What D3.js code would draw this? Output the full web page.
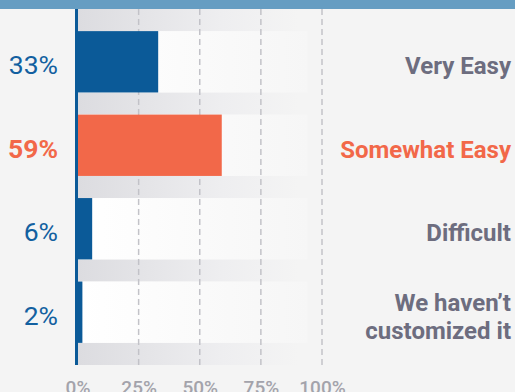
<!DOCTYPE html>
<html>
<head>
<meta charset="utf-8">
<script src="https://cdn.jsdelivr.net/npm/d3@7"></script>
<style>
  body { margin: 0; background: #f4f4f4; }
  svg { display: block; font-family: Roboto, "Noto Sans", sans-serif; }
</style>
</head>
<body>
<div id="chart"></div>
<script>
// data
const categories = ["Very Easy", "Somewhat Easy", "Difficult", "We haven\u2019t customized it"];
const labelLines = [["Very Easy"], ["Somewhat Easy"], ["Difficult"], ["We haven\u2019t", "customized it"]];
const values = [33, 59, 6, 2];
const highlight = "Somewhat Easy";
const tickValues = [0, 25, 50, 75, 100];

const width = 515, height = 392;
const yTop = 9, yBottom = 365;
const blue = "#0b5a98", orange = "#f26849", grey = "#6d6d7f";

const svg = d3.select("#chart").append("svg")
  .attr("width", width)
  .attr("height", height);

// gradients for the row stripes
const defs = svg.append("defs");
const gWhite = defs.append("linearGradient").attr("id", "whiteFade");
gWhite.append("stop").attr("offset", "0%").attr("stop-color", "#ffffff");
gWhite.append("stop").attr("offset", "100%").attr("stop-color", "#f6f6f6");
const gGrey = defs.append("linearGradient").attr("id", "greyFade");
gGrey.append("stop").attr("offset", "0%").attr("stop-color", "#dcdce0");
gGrey.append("stop").attr("offset", "65%").attr("stop-color", "#eeeef0");
gGrey.append("stop").attr("offset", "100%").attr("stop-color", "#f4f4f4");

svg.append("rect").attr("width", width).attr("height", height).attr("fill", "#f4f4f4");

const x = d3.scaleLinear().domain([0, 100]).range([77.5, 322]);
const y = d3.scaleBand().domain(categories).range([yTop, yBottom]).padding(0.265);
const bw = y.bandwidth();

// grey stripes in the gaps between bars
const gaps = d3.range(categories.length + 1).map(i => ({
  y0: i === 0 ? yTop : y(categories[i - 1]) + bw,
  y1: i === categories.length ? yBottom : y(categories[i])
}));
svg.append("g").selectAll("rect")
  .data(gaps)
  .join("rect")
  .attr("x", x(0) + 0.5)
  .attr("y", d => d.y0)
  .attr("width", 220)
  .attr("height", d => d.y1 - d.y0)
  .attr("fill", "url(#greyFade)");

// white band behind each bar
svg.append("g").selectAll("rect")
  .data(categories)
  .join("rect")
  .attr("x", x(0))
  .attr("y", d => y(d))
  .attr("width", 230)
  .attr("height", bw)
  .attr("fill", "url(#whiteFade)");

// dashed gridlines
svg.append("g").selectAll("line")
  .data(tickValues.filter(d => d > 0))
  .join("line")
  .attr("x1", d => x(d)).attr("x2", d => x(d))
  .attr("y1", yTop).attr("y2", yBottom)
  .attr("stroke", "#c2c2c8")
  .attr("stroke-width", 1.5)
  .attr("stroke-dasharray", "6,4");

// bars
svg.append("g").selectAll("rect")
  .data(categories)
  .join("rect")
  .attr("x", x(0) - 2.5)
  .attr("y", d => y(d))
  .attr("width", (d, i) => x(values[i]) - x(0) + 2.5)
  .attr("height", bw)
  .attr("fill", d => d === highlight ? orange : blue);

// vertical axis line
svg.append("line")
  .attr("x1", x(0) - 1).attr("x2", x(0) - 1)
  .attr("y1", yTop).attr("y2", yBottom)
  .attr("stroke", blue)
  .attr("stroke-width", 3);

// top band
svg.append("rect").attr("width", width).attr("height", yTop).attr("fill", "#669dc2");

// percentages on the left
svg.append("g").selectAll("text")
  .data(categories)
  .join("text")
  .attr("x", 58)
  .attr("y", d => y(d) + bw / 2 + 12.5)
  .attr("text-anchor", "end")
  .attr("font-size", 26.5)
  .attr("font-weight", d => d === highlight ? 700 : 400)
  .attr("fill", d => d === highlight ? orange : "#1260a0")
  .text((d, i) => values[i] + "%");

// category labels on the right
const lh = 28;
svg.append("g").selectAll("text")
  .data(categories)
  .join("text")
  .attr("text-anchor", "end")
  .attr("font-size", 24)
  .attr("font-weight", 700)
  .attr("fill", d => d === highlight ? orange : grey)
  .each(function(d, i) {
    const lines = labelLines[i];
    const y0 = y(d) + bw / 2 + 12.5 - (lines.length - 1) * lh / 2;
    d3.select(this).selectAll("tspan")
      .data(lines)
      .join("tspan")
      .attr("x", 511)
      .attr("y", (l, j) => y0 + j * lh)
      .text(l => l);
  });

// x axis tick labels (cut by the bottom edge, as in the source)
const xAxis = svg.append("g")
  .attr("transform", "translate(0," + 380 + ")")
  .call(d3.axisBottom(x).tickValues(tickValues).tickFormat(d => d + "%").tickSize(0).tickPadding(0));
xAxis.select(".domain").remove();
xAxis.selectAll("text")
  .attr("font-family", "Roboto, sans-serif")
  .attr("font-size", 19)
  .attr("font-weight", 500)
  .attr("fill", "#a3a3ab");
</script>
</body>
</html>
